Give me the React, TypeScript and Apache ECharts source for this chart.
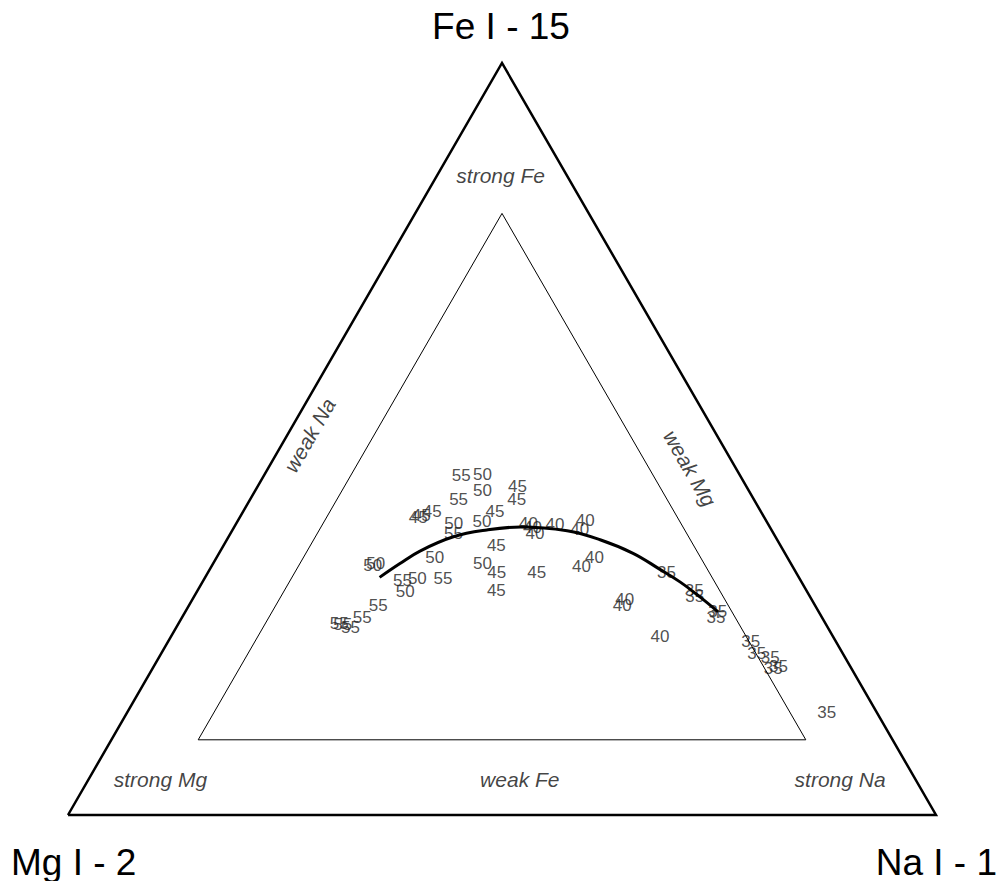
import React, { useEffect, useRef } from "react";
import * as echarts from "echarts";

const SQ3 = Math.sqrt(3) / 2;

// Ternary corner titles
const cornerTop = "Fe I - 15";
const cornerLeft = "Mg I - 2";
const cornerRight = "Na I - 1";

// Inner zone threshold (each component >= 0.1)
const innerMin = 0.1;

// Data points: label (temperature), Fe share, Na share (Mg = 1 - Fe - Na)
const pointTemp = [
  55, 55, 55, 55, 55, 55, 55, 55, 55, 55,
  50, 50, 50, 50, 50, 50, 50, 50, 50, 50,
  45, 45, 45, 45, 45, 45, 45, 45, 45, 45,
  40, 40, 40, 40, 40, 40, 40, 40, 40, 40, 40,
  35, 35, 35, 35, 35, 35, 35, 35, 35, 35, 35,
];
const pointFe = [
  0.452, 0.420, 0.374, 0.3125, 0.314, 0.279, 0.262, 0.255, 0.253, 0.249,
  0.453, 0.431, 0.390, 0.387, 0.343, 0.332, 0.335, 0.335, 0.315, 0.297,
  0.4375, 0.420, 0.404, 0.395, 0.398, 0.403, 0.359, 0.322, 0.299, 0.322,
  0.387, 0.382, 0.374, 0.386, 0.392, 0.379, 0.343, 0.331, 0.287, 0.279, 0.238,
  0.323, 0.299, 0.290, 0.271, 0.263, 0.231, 0.215, 0.210, 0.197, 0.195, 0.136,
];
const pointNa = [
  0.227, 0.240, 0.257, 0.229, 0.275, 0.218, 0.208, 0.185, 0.190, 0.201,
  0.251, 0.262, 0.282, 0.251, 0.251, 0.185, 0.187, 0.310, 0.245, 0.240,
  0.299, 0.307, 0.290, 0.206, 0.208, 0.218, 0.314, 0.333, 0.344, 0.379,
  0.337, 0.344, 0.351, 0.368, 0.400, 0.400, 0.435, 0.426, 0.498, 0.499, 0.563,
  0.528, 0.572, 0.577, 0.613, 0.615, 0.671, 0.686, 0.704, 0.720, 0.715, 0.806,
];

// Fitted curve (Fe share, Na share)
const curveFe = [0.316, 0.334, 0.351, 0.370, 0.379, 0.383, 0.378, 0.366, 0.348, 0.327, 0.310, 0.290, 0.270];
const curveNa = [0.201, 0.215, 0.230, 0.259, 0.293, 0.330, 0.386, 0.430, 0.477, 0.518, 0.550, 0.583, 0.614];

// Zone annotations
const zoneNames = ["strong Fe", "strong Mg", "strong Na", "weak Fe", "weak Na", "weak Mg"];
const zoneFe = [0.851, 0.047, 0.047, 0.047, 0.505, 0.461];
const zoneNa = [0.073, 0.083, 0.866, 0.497, 0.026, 0.486];
const zoneRotate = [0, 0, 0, 0, 60, -60];

const toXY = (fe: number, na: number) => [na + fe / 2, fe * SQ3];

export default function App() {
  const ref = useRef<HTMLDivElement>(null);

  useEffect(() => {
    if (!ref.current) return;
    const chart = echarts.init(ref.current, null, { renderer: "svg" });

    const outer = [toXY(0, 0), toXY(0, 1), toXY(1, 0), toXY(0, 0)];
    const hi = 1 - 2 * innerMin;
    const inner = [
      toXY(innerMin, innerMin),
      toXY(innerMin, hi),
      toXY(hi, innerMin),
      toXY(innerMin, innerMin),
    ];
    const curve = curveFe.map((fe, i) => toXY(fe, curveNa[i]));
    const points = pointTemp.map((t, i) => ({
      name: String(t),
      value: toXY(pointFe[i], pointNa[i]),
    }));
    const zones = zoneNames.map((n, i) => ({
      name: n,
      value: toXY(zoneFe[i], zoneNa[i]),
      label: { rotate: zoneRotate[i] },
    }));

    const font = '"Liberation Sans", Arial, Helvetica, sans-serif';

    chart.setOption({
      animation: false,
      backgroundColor: "#ffffff",
      grid: { left: 68, top: 63, width: 868, height: 752 },
      xAxis: { type: "value", min: 0, max: 1, show: false },
      yAxis: { type: "value", min: 0, max: SQ3, show: false },
      tooltip: { show: false },
      series: [
        {
          type: "line",
          data: outer,
          symbol: "none",
          clip: false,
          silent: true,
          lineStyle: { color: "#000", width: 2.5, join: "miter" },
        },
        {
          type: "line",
          data: inner,
          symbol: "none",
          clip: false,
          silent: true,
          lineStyle: { color: "#000", width: 1 },
        },
        {
          type: "line",
          data: curve,
          symbol: "none",
          smooth: 0.4,
          clip: false,
          silent: true,
          lineStyle: { color: "#000", width: 3 },
        },
        {
          type: "scatter",
          data: points,
          symbolSize: 1,
          itemStyle: { color: "rgba(0,0,0,0)" },
          clip: false,
          silent: true,
          label: {
            show: true,
            position: "inside",
            formatter: "{b}",
            fontFamily: font,
            fontSize: 17,
            color: "#222",
          },
        },
        {
          type: "scatter",
          data: zones,
          symbolSize: 1,
          itemStyle: { color: "rgba(0,0,0,0)" },
          clip: false,
          silent: true,
          label: {
            show: true,
            position: "inside",
            formatter: "{b}",
            fontFamily: font,
            fontStyle: "italic",
            fontSize: 21,
            color: "#111",
          },
        },
      ],
      graphic: [
        {
          type: "text",
          x: 501,
          y: 26,
          style: {
            text: cornerTop,
            fontFamily: font,
            fontSize: 37,
            fill: "#000",
            align: "center",
            verticalAlign: "middle",
          },
        },
        {
          type: "text",
          x: 11,
          y: 862,
          style: {
            text: cornerLeft,
            fontFamily: font,
            fontSize: 37,
            fill: "#000",
            align: "left",
            verticalAlign: "middle",
          },
        },
        {
          type: "text",
          x: 997,
          y: 862,
          style: {
            text: cornerRight,
            fontFamily: font,
            fontSize: 37,
            fill: "#000",
            align: "right",
            verticalAlign: "middle",
          },
        },
      ],
    });

    return () => chart.dispose();
  }, []);

  return (
    <div
      ref={ref}
      style={{ position: "absolute", left: 0, top: 0, width: 1006, height: 881, background: "#fff" }}
    />
  );
}
